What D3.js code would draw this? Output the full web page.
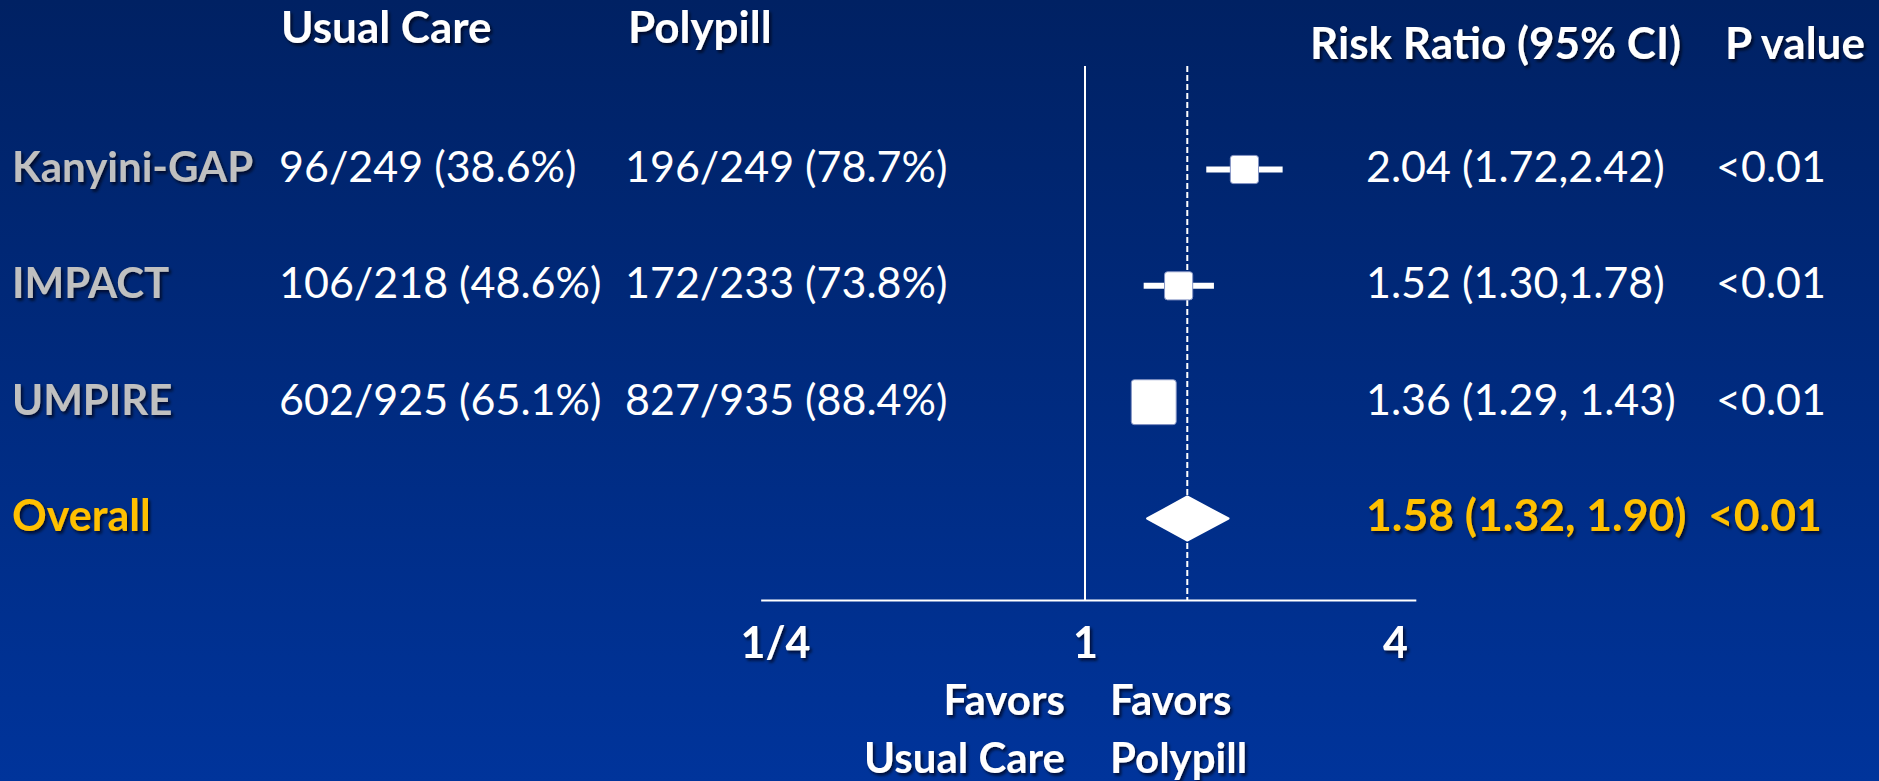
<!DOCTYPE html>
<html>
<head>
<meta charset="utf-8">
<script src="https://cdn.jsdelivr.net/npm/d3@7"></script>
<style>
  html, body { margin: 0; padding: 0; background: #00287d; overflow: hidden; }
  svg { display: block; }
  text { font-family: Lato, "Open Sans", "Liberation Sans", sans-serif; }
</style>
</head>
<body>
<svg id="chart" width="1879" height="781"></svg>
<script>
// Trial rows
const studies = ["Kanyini-GAP", "IMPACT", "UMPIRE"];
const usualCare = ["96/249 (38.6%)", "106/218 (48.6%)", "602/925 (65.1%)"];
const polypill = ["196/249 (78.7%)", "172/233 (73.8%)", "827/935 (88.4%)"];
const riskRatio = [2.04, 1.52, 1.36];
const ciLower = [1.72, 1.30, 1.29];
const ciUpper = [2.42, 1.78, 1.43];
const rrLabels = ["2.04 (1.72,2.42)", "1.52 (1.30,1.78)", "1.36 (1.29, 1.43)"];
const pValues = ["<0.01", "<0.01", "<0.01"];
const weights = [22, 22, 56];

// Pooled estimate
const overallLabel = "Overall";
const overallRR = 1.58;
const overallCI = [1.32, 1.90];
const overallRRLabel = "1.58 (1.32, 1.90)";
const overallP = "<0.01";

// Axis
const tickValues = [0.25, 1, 4];
const tickLabels = ["1/4", "1", "4"];
const axisExtent = [0.235, 4.4];

const headers = ["Usual Care", "Polypill", "Risk Ratio (95% CI)", "P value"];
const favorsLeft = ["Favors", "Usual Care"];
const favorsRight = ["Favors", "Polypill"];

const W = 1879, H = 781;
const svg = d3.select("#chart");
const defs = svg.append("defs");

const grad = defs.append("linearGradient")
  .attr("id", "bg").attr("x1", 0).attr("y1", 0).attr("x2", 0).attr("y2", 1);
grad.append("stop").attr("offset", "0%").attr("stop-color", "#002163");
grad.append("stop").attr("offset", "100%").attr("stop-color", "#00349b");

const shadow = defs.append("filter").attr("id", "shadow")
  .attr("x", "-10%").attr("y", "-20%").attr("width", "130%").attr("height", "160%");
shadow.append("feDropShadow")
  .attr("dx", 2).attr("dy", 2.5).attr("stdDeviation", 1.6)
  .attr("flood-color", "#000010").attr("flood-opacity", 0.75);

svg.append("rect").attr("width", W).attr("height", H).attr("fill", "url(#bg)");

// Scales
const x = d3.scaleLog().base(2).domain([0.25, 4]).range([775, 1395]);
const rows = studies.concat([overallLabel]);
const y = d3.scalePoint().domain(rows).range([169.5, 518.5]);
const boxSide = d3.scaleSqrt().domain([0, 100]).range([0, 60]);

const axisY = 600.5;
const lineTop = 66;
const baselineOffset = 12.5;

const col = { name: 12, usual: 279, poly: 625, rr: 1366, p: 1716 };

// Column headers
const headerG = svg.append("g").attr("filter", "url(#shadow)")
  .attr("fill", "#ffffff").attr("font-weight", 700).attr("font-size", 44);
headerG.append("text").attr("x", 281).attr("y", 43).text(headers[0]);
headerG.append("text").attr("x", 628).attr("y", 43).text(headers[1]);
headerG.append("text").attr("x", 1310).attr("y", 59).text(headers[2]);
headerG.append("text").attr("x", 1725).attr("y", 59).text(headers[3]);

// Reference line at no effect and dashed line at the pooled estimate
svg.append("line")
  .attr("x1", x(1)).attr("x2", x(1)).attr("y1", lineTop).attr("y2", axisY)
  .attr("stroke", "#ffffff").attr("stroke-width", 2);
svg.append("line")
  .attr("x1", x(overallRR)).attr("x2", x(overallRR)).attr("y1", lineTop).attr("y2", axisY)
  .attr("stroke", "#ffffff").attr("stroke-width", 2).attr("stroke-dasharray", "6,3");

// Axis
const axis = d3.axisBottom(x)
  .tickValues(tickValues)
  .tickFormat((d, i) => tickLabels[i])
  .tickSize(0)
  .tickPadding(27);
const axisG = svg.append("g").attr("transform", `translate(0,${axisY})`).call(axis);
axisG.select(".domain")
  .attr("d", `M${x(axisExtent[0])},0H${x(axisExtent[1])}`)
  .attr("stroke", "#ffffff").attr("stroke-width", 2);
axisG.selectAll(".tick text")
  .attr("fill", "#ffffff").attr("font-size", 43).attr("font-weight", 700)
  .attr("font-family", "Lato, 'Open Sans', sans-serif")
  .attr("filter", "url(#shadow)");

// Study rows
const data = studies.map((s, i) => ({
  name: s, usual: usualCare[i], poly: polypill[i], rr: riskRatio[i],
  lo: ciLower[i], hi: ciUpper[i], label: rrLabels[i], p: pValues[i], w: weights[i]
}));

const rowG = svg.selectAll("g.row").data(data).join("g").attr("class", "row");

rowG.append("text")
  .attr("x", col.name).attr("y", d => y(d.name) + baselineOffset)
  .attr("font-size", 42).attr("font-weight", 700).attr("fill", "#c0c0c0")
  .attr("filter", "url(#shadow)")
  .text(d => d.name);

const valueText = (sel, key, xPos) => sel.append("text")
  .attr("x", xPos).attr("y", d => y(d.name) + baselineOffset)
  .attr("font-size", 43).attr("fill", "#ffffff")
  .text(d => d[key]);
valueText(rowG, "usual", col.usual);
valueText(rowG, "poly", col.poly);
valueText(rowG, "label", col.rr);
valueText(rowG, "p", col.p);

// Confidence intervals and weighted boxes
rowG.append("line")
  .attr("x1", d => x(d.lo)).attr("x2", d => x(d.hi))
  .attr("y1", d => y(d.name)).attr("y2", d => y(d.name))
  .attr("stroke", "#ffffff").attr("stroke-width", 6);
rowG.append("rect")
  .attr("x", d => x(d.rr) - boxSide(d.w) / 2)
  .attr("y", d => y(d.name) - boxSide(d.w) / 2)
  .attr("width", d => boxSide(d.w)).attr("height", d => boxSide(d.w))
  .attr("rx", 3)
  .attr("fill", "#ffffff").attr("stroke", "#8393c4").attr("stroke-width", 1);

// Pooled row
const oy = y(overallLabel);
const oG = svg.append("g").attr("fill", "#ffc000").attr("font-weight", 700)
  .attr("font-size", 43).attr("filter", "url(#shadow)");
oG.append("text").attr("x", col.name).attr("y", oy + baselineOffset).text(overallLabel);
oG.append("text").attr("x", col.rr).attr("y", oy + baselineOffset)
  .attr("font-size", 44.5).text(overallRRLabel);
oG.append("text").attr("x", col.p - 8).attr("y", oy + baselineOffset)
  .attr("font-size", 44.5).text(overallP);

const dh = 22;
svg.append("path")
  .attr("d", `M${x(overallCI[0])},${oy}L${x(overallRR)},${oy - dh}L${x(overallCI[1])},${oy}L${x(overallRR)},${oy + dh}Z`)
  .attr("fill", "#ffffff").attr("stroke", "#ffffff").attr("stroke-width", 2)
  .attr("stroke-linejoin", "round");

// Direction labels
const favG = svg.append("g").attr("fill", "#ffffff").attr("font-weight", 700)
  .attr("font-size", 42).attr("filter", "url(#shadow)");
favG.selectAll("text.l").data(favorsLeft).join("text").attr("class", "l")
  .attr("x", 1065).attr("y", (d, i) => 715 + i * 58).attr("text-anchor", "end").text(d => d);
favG.selectAll("text.r").data(favorsRight).join("text").attr("class", "r")
  .attr("x", 1110).attr("y", (d, i) => 715 + i * 58).attr("text-anchor", "start").text(d => d);
</script>
</body>
</html>
